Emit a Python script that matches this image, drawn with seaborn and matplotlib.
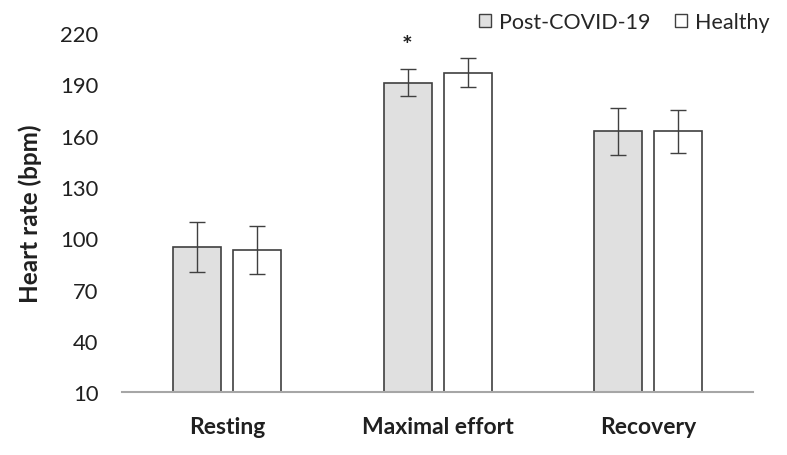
import matplotlib
matplotlib.use("Agg")
import matplotlib.pyplot as plt
import seaborn as sns
import pandas as pd
import numpy as np

categories = ["Resting", "Maximal effort", "Recovery"]
groups = ["Post-COVID-19", "Healthy"]
post_mean = [95, 191, 162.5]
post_sd = [14.5, 7.8, 14]
healthy_mean = [93, 197, 162.5]
healthy_sd = [14.2, 8.5, 12.8]
yticks = [10, 40, 70, 100, 130, 160, 190, 220]

df = pd.DataFrame({
    "phase": categories * 2,
    "group": [groups[0]] * 3 + [groups[1]] * 3,
    "hr": post_mean + healthy_mean,
    "sd": post_sd + healthy_sd,
})

sns.set_theme(style="white")
plt.rcParams["font.family"] = ["Lato", "DejaVu Sans"]

fig = plt.figure(figsize=(7.87, 4.56), dpi=100)
ax = fig.add_axes([0.155, 0.138, 0.802, 0.787])

sns.barplot(data=df, x="phase", y="hr", hue="group", order=categories,
            hue_order=groups, palette={groups[0]: "#e0e0e0", groups[1]: "#ffffff"},
            edgecolor="#404040", linewidth=1.2, width=0.571, gap=0.2,
            errorbar=None, ax=ax)

# error bars from bar patches
bars = [p for p in ax.patches if p.get_height() > 0]
bars = sorted(bars, key=lambda p: p.get_x())
sds = []
for i in range(3):
    sds += [post_sd[i], healthy_sd[i]]
for p, sd in zip(bars, sds):
    xc = p.get_x() + p.get_width() / 2
    ax.errorbar(xc, p.get_height(), yerr=sd, fmt="none", ecolor="#404040",
                elinewidth=1.0, capsize=6, capthick=1.0)

# significance star on maximal effort post-COVID
p = bars[2]
ax.text(p.get_x() + p.get_width() / 2, post_mean[1] + post_sd[1] + 7, "*",
        ha="center", va="bottom", fontsize=18, fontweight="bold", color="#202020")

ax.set_ylim(10, 220)
ax.set_xlim(-0.5, 2.5)
ax.set_yticks(yticks)
ax.set_yticklabels([str(t) for t in yticks], fontsize=15.8, color="#202020")
ax.set_xticks(range(3))
ax.set_xticklabels(categories, fontsize=16.5, fontweight="bold", color="#202020")
ax.set_xlabel("")
ax.set_ylabel("Heart rate (bpm)", fontsize=17.5, fontweight="bold", color="#202020", labelpad=13)
ax.tick_params(axis="y", length=0, pad=17)
ax.tick_params(axis="x", length=0, pad=17)
for s in ["top", "right", "left"]:
    ax.spines[s].set_visible(False)
ax.spines["bottom"].set_color("#a6a6a6")
ax.spines["bottom"].set_linewidth(1.5)

leg = ax.legend(loc="upper right", bbox_to_anchor=(1.056, 1.114), ncol=2, frameon=False,
                fontsize=15.5, handlelength=0.55, handleheight=0.55, handletextpad=0.35,
                columnspacing=1.15)
for h in leg.legend_handles:
    h.set_edgecolor("#404040")
    h.set_linewidth(1.0)

fig.savefig("out.png", dpi=100)
